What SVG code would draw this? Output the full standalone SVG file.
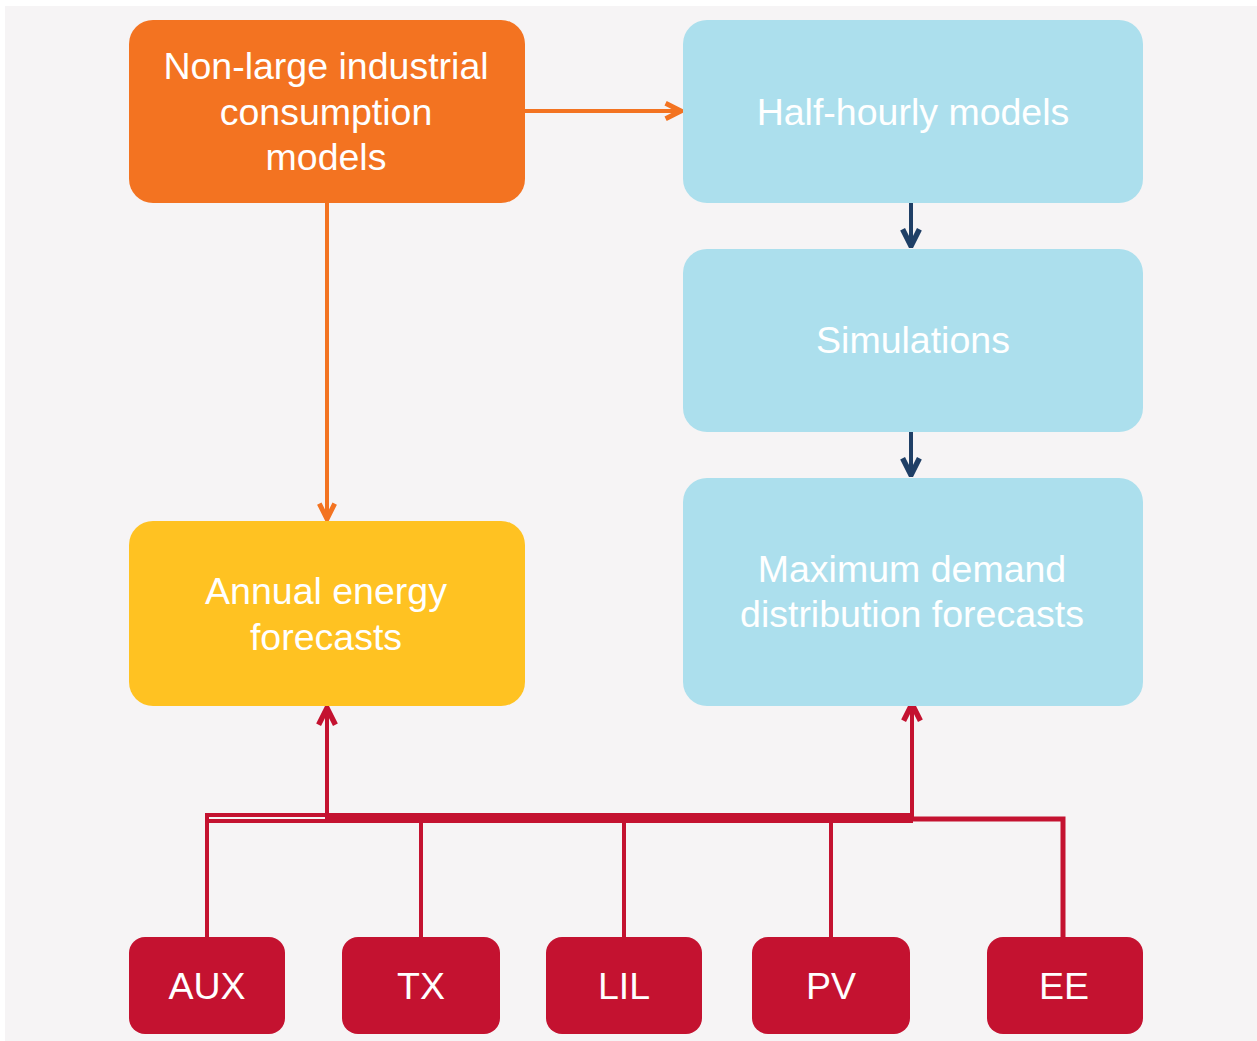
<svg xmlns="http://www.w3.org/2000/svg" width="1257" height="1041" viewBox="0 0 1257 1041">
<style>
.t{font-family:"Liberation Sans",Arial,sans-serif;font-size:37.5px;fill:#ffffff;text-anchor:middle}
.or{fill:#f37321}.bl{fill:#acdfed}.ye{fill:#ffc222}.rd{fill:#c41230}
.c{fill:none;stroke-linecap:butt}
</style>
<defs>
<marker id="ao" viewBox="0 0 20 20" refX="18" refY="10" markerWidth="22" markerHeight="22" markerUnits="userSpaceOnUse" orient="auto">
<path d="M4,3 L18,10 L4,17" fill="none" stroke="#f37321" stroke-width="4.5"/>
</marker>
<marker id="an" viewBox="0 0 20 20" refX="18" refY="10" markerWidth="24" markerHeight="24" markerUnits="userSpaceOnUse" orient="auto">
<path d="M4,3 L18,10 L4,17" fill="none" stroke="#1f3f66" stroke-width="4.5"/>
</marker>
<marker id="ar" viewBox="0 0 20 20" refX="18" refY="10" markerWidth="24" markerHeight="24" markerUnits="userSpaceOnUse" orient="auto">
<path d="M4,3 L18,10 L4,17" fill="none" stroke="#c41230" stroke-width="4.5"/>
</marker>
</defs>
<rect x="5" y="6" width="1252" height="1035" fill="#f6f4f5"/>
<g id="connectors">
<line class="c" x1="525" y1="111" x2="681" y2="111" stroke="#f37321" stroke-width="4" marker-end="url(#ao)"/>
<line class="c" x1="327" y1="203" x2="327" y2="519" stroke="#f37321" stroke-width="4" marker-end="url(#ao)"/>
<line class="c" x1="911" y1="203" x2="911" y2="246" stroke="#1f3f66" stroke-width="4" marker-end="url(#an)"/>
<line class="c" x1="911" y1="432" x2="911" y2="475" stroke="#1f3f66" stroke-width="4" marker-end="url(#an)"/>
<path class="c" d="M207,937 V815 H327" stroke="#c41230" stroke-width="4"/>
<path class="c" d="M207,821 H327" stroke="#c41230" stroke-width="4"/>
<path class="c" d="M325,818 H913" stroke="#c41230" stroke-width="10"/>
<path class="c" d="M911,819 H1063 V937" stroke="#c41230" stroke-width="5"/>
<line class="c" x1="421" y1="818" x2="421" y2="937" stroke="#c41230" stroke-width="4"/>
<line class="c" x1="624" y1="818" x2="624" y2="937" stroke="#c41230" stroke-width="4"/>
<line class="c" x1="831" y1="818" x2="831" y2="937" stroke="#c41230" stroke-width="4"/>
<line class="c" x1="327" y1="818" x2="327" y2="708" stroke="#c41230" stroke-width="4" marker-end="url(#ar)"/>
<line class="c" x1="912" y1="818" x2="912" y2="704" stroke="#c41230" stroke-width="4" marker-end="url(#ar)"/>
</g>
<g id="nonlarge">
<rect class="or" x="129" y="20" width="396" height="183" rx="24"/>
<text class="t" x="326" y="79">Non-large industrial</text>
<text class="t" x="326" y="125">consumption</text>
<text class="t" x="326" y="170">models</text>
</g>
<g id="halfhourly">
<rect class="bl" x="683" y="20" width="460" height="183" rx="24"/>
<text class="t" x="913" y="125">Half-hourly models</text>
</g>
<g id="simulations">
<rect class="bl" x="683" y="249" width="460" height="183" rx="24"/>
<text class="t" x="913" y="353">Simulations</text>
</g>
<g id="maxdemand">
<rect class="bl" x="683" y="478" width="460" height="228" rx="24"/>
<text class="t" x="912" y="582">Maximum demand</text>
<text class="t" x="912" y="627">distribution forecasts</text>
</g>
<g id="annual">
<rect class="ye" x="129" y="521" width="396" height="185" rx="24"/>
<text class="t" x="326" y="604">Annual energy</text>
<text class="t" x="326" y="650">forecasts</text>
</g>
<g id="aux">
<rect class="rd" x="129" y="937" width="156" height="97" rx="16"/>
<text class="t" x="207" y="999">AUX</text>
</g>
<g id="tx">
<rect class="rd" x="342" y="937" width="158" height="97" rx="16"/>
<text class="t" x="421" y="999">TX</text>
</g>
<g id="lil">
<rect class="rd" x="546" y="937" width="156" height="97" rx="16"/>
<text class="t" x="624" y="999">LIL</text>
</g>
<g id="pv">
<rect class="rd" x="752" y="937" width="158" height="97" rx="16"/>
<text class="t" x="831" y="999">PV</text>
</g>
<g id="ee">
<rect class="rd" x="987" y="937" width="156" height="97" rx="16"/>
<text class="t" x="1064" y="999">EE</text>
</g>
</svg>
